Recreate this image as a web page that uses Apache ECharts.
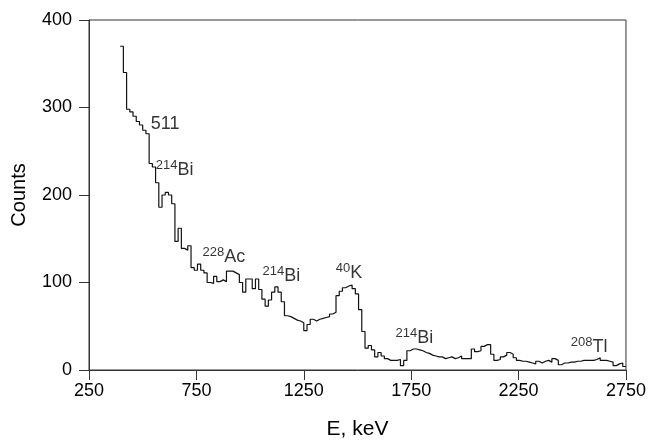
<!DOCTYPE html>
<html>
<head>
<meta charset="utf-8">
<script src="https://cdn.jsdelivr.net/npm/echarts@6/dist/echarts.min.js"></script>
<style>
  html, body { margin: 0; padding: 0; background: #fff; }
  #chart { width: 649px; height: 445px; }
</style>
</head>
<body>
<div id="chart"></div>
<script>
// Gamma spectrum: counts per 15 keV bin, first bin starts at 395 keV
const binStart = 395;
const binWidth = 15;
const counts = [
  370, 340, 298, 295, 290, 284, 280, 274, 270,
  236, 232, 214, 186, 200, 203, 200, 190,
  147, 162, 139, 137, 142, 117, 114, 121,
  114, 111, 100, 99, 107, 101, 103, 101,
  113, 113, 111, 109, 100, 89, 104, 104, 93, 104, 92, 81, 73, 80, 89, 95, 89, 78,
  62, 61, 59, 57, 56, 54, 45, 52, 58, 56, 58, 59, 60, 61, 64, 66,
  85, 90, 94, 96, 97, 93, 87, 69, 44,
  25, 28, 23, 15, 20, 16, 13, 11, 11, 11, 12, 5, 11,
  22, 24, 24, 23, 22, 20, 19, 17, 16, 15, 15, 13, 14, 15, 13, 14, 16, 13, 13, 13,
  24, 21, 22, 27, 29, 29, 18, 11, 12, 15, 17, 20, 18, 14, 11, 10, 10,
  9, 8, 7, 10, 8, 10, 11, 9, 13, 11, 6, 8, 8, 9, 9, 10, 10, 11, 11, 11, 11,
  12, 14, 11, 11, 10, 9, 5, 7, 8, 4
];

// Axis ticks
const xTicks = [250, 750, 1250, 1750, 2250, 2750];
const yTicks = [0, 100, 200, 300, 400];

// Peak annotations: isotope mass number (superscript), symbol, anchor (keV, counts)
const peakSup = ['', '214', '228', '214', '40', '214', '208'];
const peakName = ['511', 'Bi', 'Ac', 'Bi', 'K', 'Bi', 'Tl'];
const peakE = [538, 561, 779, 1058, 1399, 1677, 2493];
const peakCounts = [281, 229, 129, 107, 111, 37, 26];

// Step line points: left edge of every bin plus the closing edge
const stepData = counts.map((c, i) => [binStart + i * binWidth, c]);
stepData.push([binStart + counts.length * binWidth, counts[counts.length - 1]]);

const labelData = peakName.map((n, i) => ({
  value: [peakE[i], peakCounts[i]],
  name: n,
  sup: peakSup[i]
}));

const FONT = 'Liberation Sans, Arial, Helvetica, sans-serif';
const axisColor = '#333';
const textColor = '#000';

const chart = echarts.init(document.getElementById('chart'), null, { renderer: 'canvas' });
chart.setOption({
  animation: false,
  backgroundColor: '#fff',
  grid: {
    left: 89, right: 21, top: 20, bottom: 67,
    show: true, borderColor: axisColor, borderWidth: 1, backgroundColor: 'transparent'
  },
  xAxis: {
    type: 'value',
    min: xTicks[0], max: xTicks[xTicks.length - 1],
    interval: xTicks[1] - xTicks[0],
    name: 'E, keV',
    nameLocation: 'middle',
    nameGap: 49,
    nameTextStyle: { fontFamily: FONT, fontSize: 21, color: textColor },
    axisLine: { show: true, onZero: false, lineStyle: { color: axisColor, width: 1 } },
    axisTick: { show: true, inside: false, length: 10, lineStyle: { color: axisColor } },
    axisLabel: {
      margin: 12, fontFamily: FONT, fontSize: 18, color: textColor,
      formatter: v => String(v)
    },
    splitLine: { show: false }
  },
  yAxis: {
    type: 'value',
    min: yTicks[0], max: yTicks[yTicks.length - 1],
    interval: yTicks[1] - yTicks[0],
    name: 'Counts',
    nameLocation: 'middle',
    nameGap: 60,
    nameTextStyle: { fontFamily: FONT, fontSize: 20, color: textColor },
    axisLine: { show: true, onZero: false, lineStyle: { color: axisColor, width: 1 } },
    axisTick: { show: true, inside: false, length: 10, lineStyle: { color: axisColor } },
    axisLabel: {
      margin: 17, fontFamily: FONT, fontSize: 18, color: textColor,
      formatter: v => String(v)
    },
    splitLine: { show: false }
  },
  series: [
    {
      type: 'line',
      step: 'end',
      data: stepData,
      symbol: 'none',
      lineStyle: { color: '#111', width: 1.2 },
      z: 3
    },
    {
      type: 'scatter',
      data: labelData,
      symbolSize: 0,
      silent: true,
      label: {
        show: true,
        position: 'right',
        distance: 0,
        formatter: p => (p.data.sup ? '{sup|' + p.data.sup + '}' : '') + '{main|' + p.data.name + '}',
        rich: {
          sup: { fontFamily: FONT, fontSize: 13, color: textColor, verticalAlign: 'top', lineHeight: 13 },
          main: { fontFamily: FONT, fontSize: 18, color: textColor, lineHeight: 22 }
        }
      },
      z: 4
    }
  ]
});
</script>
</body>
</html>
